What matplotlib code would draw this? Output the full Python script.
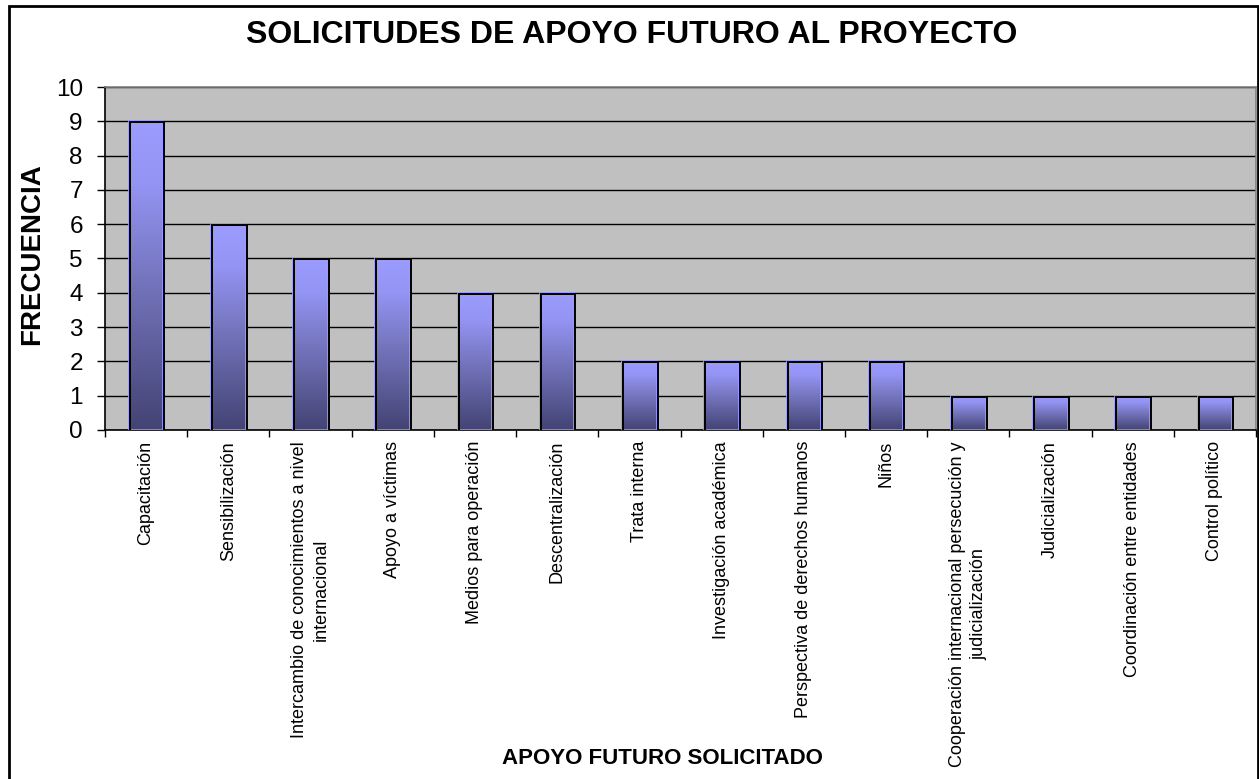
import numpy as np
import matplotlib
matplotlib.use("Agg")
import matplotlib.pyplot as plt
import matplotlib.transforms as mtransforms
from matplotlib.colors import LinearSegmentedColormap
from matplotlib.patches import Rectangle

plt.rcParams["font.family"] = ["Liberation Sans", "DejaVu Sans"]

categories = [
    "Capacitación",
    "Sensibilización",
    "Intercambio de conocimientos a nivel\ninternacional",
    "Apoyo a víctimas",
    "Medios para operación",
    "Descentralización",
    "Trata interna",
    "Investigación académica",
    "Perspectiva de derechos humanos",
    "Niños",
    "Cooperación internacional persecución y\njudicialización",
    "Judicialización",
    "Coordinación entre entidades",
    "Control político",
]
values = [9, 6, 5, 5, 4, 4, 2, 2, 2, 2, 1, 1, 1, 1]
yticks = list(range(0, 11))

title = "SOLICITUDES DE APOYO FUTURO AL PROYECTO"
xlabel = "APOYO FUTURO SOLICITADO"
ylabel = "FRECUENCIA"

# dark at the bottom, light at the top of each bar
bar_cmap = LinearSegmentedColormap.from_list(
    "barfill", [(0.0, "#434374"), (0.5, "#7676c0"), (0.8, "#9494f4"), (1.0, "#9c9cff")]
)

fig = plt.figure(figsize=(12.59, 7.79), dpi=100)
ax = fig.add_axes([105 / 1259, 1 - 430 / 779, (1256 - 105) / 1259, (430 - 87) / 779])
ax.set_facecolor("#c0c0c0")

x = np.arange(len(categories))
width = 0.42
grad = np.linspace(0, 1, 256).reshape(-1, 1)
for xi, v in zip(x, values):
    ax.imshow(grad, cmap=bar_cmap, origin="lower", aspect="auto",
              extent=(xi - width / 2, xi + width / 2, 0, v), zorder=2)

# light edge on the left/top, black edge shifted one pixel right/down
ax.bar(x, values, width=width, facecolor="none", edgecolor="#9c9cff",
       linewidth=1.2, zorder=3)
black = ax.bar(x, values, width=width, facecolor="none", edgecolor="black",
               linewidth=1.4, zorder=4)
shift = mtransforms.ScaledTranslation(1 / 100, -1 / 100, fig.dpi_scale_trans)
for p in black:
    p.set_transform(ax.transData + shift)

ax.set_xlim(-0.5, len(categories) - 0.5)
ax.set_ylim(0, 10)
ax.set_yticks(yticks)
ax.yaxis.grid(True, color="black", linewidth=1.0, zorder=1)
ax.set_axisbelow(True)
ax.tick_params(axis="y", labelsize=17.5, length=6, width=1, pad=10, direction="out")

ax.set_xticks(x)
ax.set_xticklabels(categories, rotation=90, fontsize=13, va="top", ha="center",
                   multialignment="center", linespacing=1.35)
ax.set_xticks(np.arange(len(categories) + 1) - 0.5, minor=True)
ax.tick_params(axis="x", which="major", length=0, pad=8)
ax.tick_params(axis="x", which="minor", length=5, width=1, direction="out")

for side in ("left", "bottom"):
    ax.spines[side].set_color("black")
    ax.spines[side].set_linewidth(1.2)
for side in ("top", "right"):
    ax.spines[side].set_color("#808080")
    ax.spines[side].set_linewidth(1.2)

fig.text(632 / 1259, 1 - 35 / 779, title, ha="center", va="center",
         fontsize=23, fontweight="bold")
fig.text(32 / 1259, 1 - 254 / 779, ylabel, ha="center", va="center",
         rotation=90, fontsize=20, fontweight="bold")
fig.text(662 / 1259, 1 - 758 / 779, xlabel, ha="center", va="center",
         fontsize=16, fontweight="bold")

# chart frame (bottom edge runs off the picture)
fig.patches.append(Rectangle((9 / 1259, -0.02), (1258 - 9) / 1259, 1 - 6 / 779 + 0.02,
                             transform=fig.transFigure, fill=False,
                             edgecolor="black", linewidth=2))

fig.savefig("out.png", dpi=100)
